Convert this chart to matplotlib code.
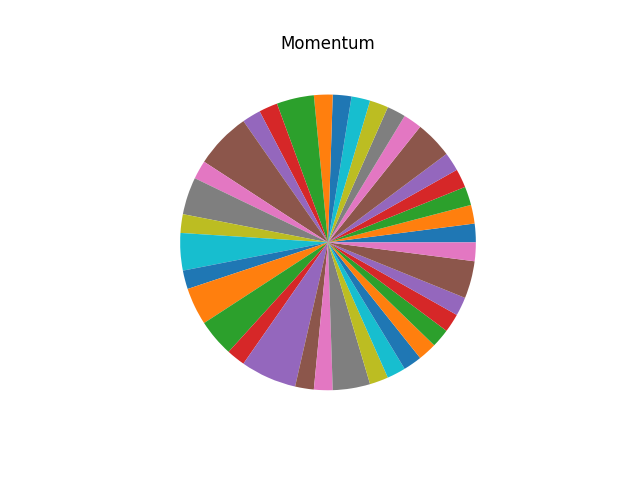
import matplotlib
matplotlib.use('Agg')
import matplotlib.pyplot as plt

# slice sizes (counter-clockwise from 3 o'clock)
sizes = [1, 1, 1, 1, 1, 2, 1, 1, 1, 1, 1, 1, 2, 1, 1, 3, 1, 2, 1, 2,
         1, 2, 2, 1, 3, 1, 1, 2, 1, 1, 1, 1, 1, 1, 1, 2, 1]

fig, ax = plt.subplots(figsize=(6.4, 4.8), dpi=100)
ax.pie(sizes)
ax.set_title('Momentum')

fig.savefig('out.png')
